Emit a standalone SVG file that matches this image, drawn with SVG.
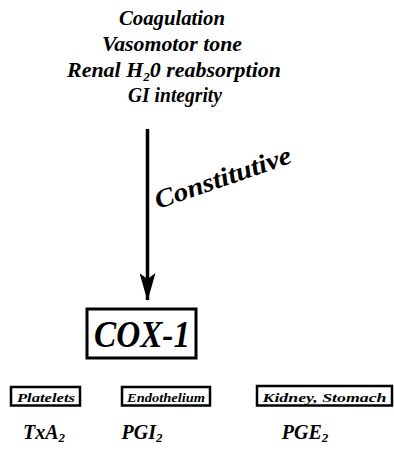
<svg xmlns="http://www.w3.org/2000/svg" width="394" height="450" viewBox="0 0 394 450">
<style>
text{font-family:"Liberation Serif","Times New Roman",serif;font-weight:bold;font-style:italic;fill:#000}
.top{font-size:20px;text-anchor:middle}
.box{fill:#fff;stroke:#000}
.sm{font-size:13.5px;text-anchor:middle}
.lab{font-size:20px;text-anchor:middle}
</style>
<defs>
<marker id="ah" markerWidth="28" markerHeight="16" refX="27" refY="8" orient="auto" markerUnits="userSpaceOnUse" viewBox="0 0 28 16">
<path d="M0,0 L28,8 L0,16 L6,8 Z" fill="#000"/>
</marker>
</defs>
<g id="effects">
<text class="top" x="172" y="25" textLength="106" lengthAdjust="spacingAndGlyphs">Coagulation</text>
<text class="top" x="172" y="51" textLength="140" lengthAdjust="spacingAndGlyphs">Vasomotor tone</text>
<text class="top" x="174" y="77" textLength="214" lengthAdjust="spacingAndGlyphs">Renal H<tspan font-size="12" dy="4">2</tspan><tspan dy="-4">0 reabsorption</tspan></text>
<text class="top" x="175" y="102" textLength="94" lengthAdjust="spacingAndGlyphs">GI integrity</text>
</g>
<g id="connectors">
<line x1="147.5" y1="129" x2="147.5" y2="300" stroke="#000" stroke-width="3.5" marker-end="url(#ah)"/>
<text transform="translate(158,209) rotate(-19)" font-size="26px" textLength="143" lengthAdjust="spacingAndGlyphs">Constitutive</text>
</g>
<g id="cox1">
<rect class="box" x="87" y="309" width="109" height="49" stroke-width="3"/>
<text x="142" y="347" font-size="37px" text-anchor="middle" textLength="96" lengthAdjust="spacingAndGlyphs">COX-1</text>
</g>
<g id="platelets">
<rect class="box" x="11" y="387" width="69" height="18.5" stroke-width="2.5"/>
<text class="sm" x="46" y="401.5" textLength="58" lengthAdjust="spacingAndGlyphs">Platelets</text>
<text class="lab" x="44" y="439">TxA<tspan font-size="13" dy="3">2</tspan></text>
</g>
<g id="endothelium">
<rect class="box" x="122" y="387" width="88" height="18.5" stroke-width="2.5"/>
<text class="sm" x="166" y="401.5" textLength="78" lengthAdjust="spacingAndGlyphs">Endothelium</text>
<text class="lab" x="142" y="439">PGI<tspan font-size="13" dy="3">2</tspan></text>
</g>
<g id="kidney">
<rect class="box" x="257" y="386" width="135" height="19.5" stroke-width="2.5"/>
<text class="sm" x="324.5" y="401.5" textLength="124" lengthAdjust="spacingAndGlyphs">Kidney, Stomach</text>
<text class="lab" x="305" y="439">PGE<tspan font-size="13" dy="3">2</tspan></text>
</g>
</svg>
